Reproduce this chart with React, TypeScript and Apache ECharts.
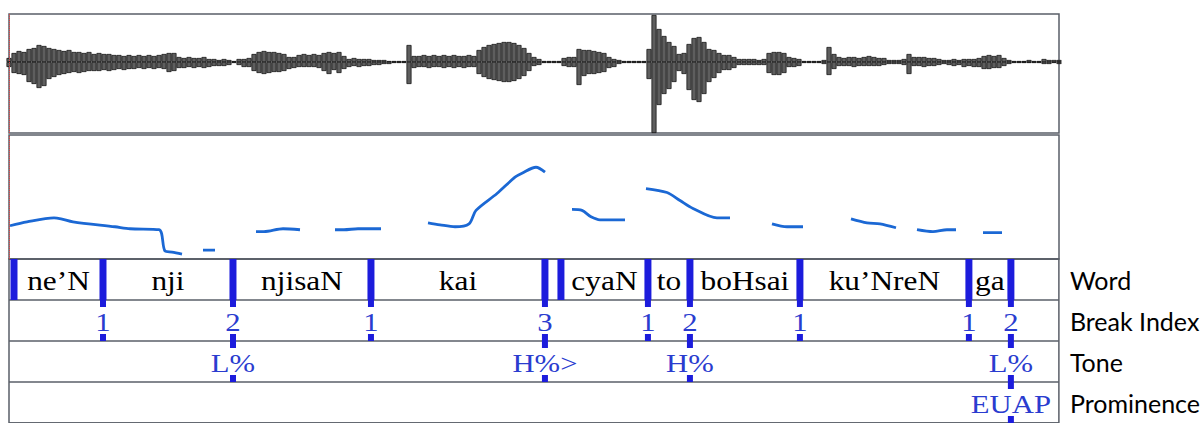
import React, { useEffect, useRef } from "react";
import * as echarts from "echarts";

// ---- time axis (ms) ----
const TIME_MAX = 2100;
const WAVE_STEP = 10; // sampling step of the waveform envelope (ms)

// ---- waveform envelope (amplitude, arbitrary units) ----
const WAVE_UP = [
  4, 9, 11, 10, 13, 14, 17, 16, 14, 13, 12, 11, 12, 10, 10, 9, 10, 8, 9, 8,
  8, 7, 7, 6, 7, 6, 7, 6, 7, 6, 7, 8, 9, 9, 5, 4, 5, 4, 4, 5,
  3, 3, 2, 3, 2, 1, 3, 3, 4, 8, 10, 11, 10, 10, 9, 8, 5, 5, 7, 8,
  7, 8, 7, 9, 10, 9, 10, 6, 3, 4, 3, 3, 3, 2, 2, 2, 1, 1, 1, 1,
  17, 6, 6, 7, 6, 7, 6, 7, 6, 7, 6, 6, 7, 6, 12, 15, 17, 18, 19, 20,
  20, 19, 17, 14, 9, 5, 3, 1, 1, 1, 1, 4, 5, 5, 13, 12, 12, 11, 10, 9,
  5, 3, 2, 1, 1, 1, 1, 1, 13, 47, 33, 26, 20, 16, 8, 9, 18, 24, 25, 20,
  13, 12, 9, 7, 7, 5, 3, 3, 3, 3, 2, 3, 9, 10, 10, 9, 5, 4, 3, 1,
  1, 1, 1, 2, 15, 8, 5, 4, 5, 5, 4, 5, 6, 5, 4, 4, 2, 2, 2, 3,
  8, 5, 5, 5, 4, 4, 3, 2, 2, 3, 2, 3, 3, 3, 4, 6, 7, 6, 7, 4,
  2, 1, 1, 1, 2, 1, 1, 3, 2, 2, 2,
];
const WAVE_DOWN = [
  -5, -11, -12, -13, -20, -22, -26, -24, -17, -15, -13, -12, -11, -10, -11, -10, -9, -9, -9, -8,
  -9, -8, -7, -8, -7, -7, -6, -7, -6, -7, -6, -7, -10, -9, -6, -6, -5, -6, -5, -6,
  -5, -4, -4, -4, -3, -1, -3, -5, -5, -9, -11, -12, -11, -10, -10, -9, -7, -6, -5, -5,
  -5, -5, -6, -9, -12, -8, -11, -7, -5, -4, -5, -4, -4, -3, -3, -2, -2, -1, -1, -1,
  -22, -6, -5, -5, -6, -5, -5, -6, -5, -6, -5, -6, -5, -5, -12, -15, -17, -18, -19, -20,
  -20, -19, -17, -14, -9, -4, -3, -1, -1, -1, -1, -4, -5, -5, -23, -14, -12, -12, -11, -10,
  -6, -5, -2, -1, -1, -1, -1, -1, -17, -71, -43, -32, -27, -20, -9, -12, -28, -38, -40, -32,
  -20, -16, -11, -8, -8, -6, -3, -3, -3, -3, -3, -3, -11, -13, -13, -11, -5, -5, -4, -1,
  -1, -1, -1, -2, -13, -7, -4, -4, -4, -5, -4, -4, -4, -4, -4, -3, -2, -2, -2, -3,
  -12, -4, -4, -5, -4, -4, -3, -2, -3, -4, -3, -5, -4, -5, -5, -7, -7, -6, -6, -4,
  -2, -1, -1, -1, -1, -1, -1, -2, -2, -1, -2,
];

// ---- pitch track (time ms, Hz), one list per voiced stretch ----
const PITCH_SEGMENTS: number[][][] = [
  [[2, 117], [36, 125], [90, 133], [104, 131], [128, 125], [212, 115], [242, 111], [300, 109], [312, 66], [326, 64], [346, 60]],
  [[388, 68], [412, 68]],
  [[494, 105], [510, 105], [548, 111], [582, 109]],
  [[652, 109], [670, 109], [698, 111], [744, 111]],
  [[838, 123], [862, 119], [892, 115], [920, 121], [934, 148], [976, 182], [1012, 215], [1026, 223], [1054, 235], [1072, 225]],
  [[1126, 150], [1146, 148], [1164, 135], [1182, 129], [1232, 129]],
  [[1274, 192], [1316, 184], [1342, 168], [1368, 152], [1416, 133], [1442, 133]],
  [[1526, 121], [1556, 115], [1588, 115]],
  [[1684, 131], [1716, 123], [1742, 121], [1774, 113]],
  [[1816, 109], [1848, 105], [1876, 109], [1894, 109]],
  [[1948, 103], [1986, 103]],
];

// ---- annotation tiers ----
const TIER_NAMES = ["Word", "Break Index", "Tone", "Prominence"];
const WORD_LABELS = ["ne’N", "nji", "njisaN", "kai", "cyaN", "to", "boHsai", "ku’NreN", "ga"];
const WORD_STARTS = [10, 188, 448, 724, 1104, 1278, 1362, 1582, 1920];
const WORD_ENDS = [188, 448, 724, 1072, 1278, 1362, 1582, 1920, 2004];
const WORD_BOUNDARIES = [10, 188, 448, 724, 1072, 1104, 1278, 1362, 1582, 1920, 2004];
const BREAK_TIMES = [188, 448, 724, 1072, 1278, 1362, 1582, 1920, 2004];
const BREAK_LABELS = ["1", "2", "1", "3", "1", "2", "1", "1", "2"];
const TONE_TIMES = [448, 1072, 1362, 2004];
const TONE_LABELS = ["L%", "H%>", "H%", "L%"];
const PROM_TIMES = [2004];
const PROM_LABELS = ["EUAP"];

const BAR_BLUE = "#1c1cdc";
const TEXT_BLUE = "#2a3ccf";
const PITCH_BLUE = "#1b68d4";
const FRAME = "#5a5f68";

export default function App() {
  const ref = useRef<HTMLDivElement>(null);

  useEffect(() => {
    document.body.style.margin = "0";
    const chart = echarts.init(ref.current!, undefined, { renderer: "svg" });

    const waveUp = WAVE_UP.map((v, i) => [i * WAVE_STEP, v]);
    const waveDown = WAVE_DOWN.map((v, i) => [i * WAVE_STEP, v]);

    const pointTiers: number[][] = [];
    BREAK_TIMES.forEach((t) => pointTiers.push([t, 1]));
    TONE_TIMES.forEach((t) => pointTiers.push([t, 2]));
    PROM_TIMES.forEach((t) => pointTiers.push([t, 3]));

    const pointLabels: { t: number; tier: number; text: string }[] = [];
    BREAK_TIMES.forEach((t, i) => pointLabels.push({ t, tier: 1, text: BREAK_LABELS[i] }));
    TONE_TIMES.forEach((t, i) => pointLabels.push({ t, tier: 2, text: TONE_LABELS[i] }));
    PROM_TIMES.forEach((t, i) => pointLabels.push({ t, tier: 3, text: PROM_LABELS[i] }));

    const xAx = (gridIndex: number) => ({
      type: "value", gridIndex, min: 0, max: TIME_MAX, show: false,
    });

    const waveStyle = { color: "#5e5e5e", borderColor: "#050505", borderWidth: 0.7 };

    const option: any = {
      animation: false,
      grid: [
        { left: 9, top: 14, width: 1050, height: 119, show: true, borderColor: FRAME, borderWidth: 1.5 },
        { left: 9, top: 135, width: 1050, height: 124, show: true, borderColor: FRAME, borderWidth: 1.5 },
        { left: 9, top: 259, width: 1050, height: 168, show: true, borderColor: FRAME, borderWidth: 1.5 },
      ],
      xAxis: [xAx(0), xAx(1), xAx(2)],
      yAxis: [
        { type: "value", gridIndex: 0, min: -71, max: 48, show: false },
        { type: "value", gridIndex: 1, min: 50, max: 300, show: false },
        {
          type: "category", gridIndex: 2, data: TIER_NAMES, inverse: true, position: "right",
          axisLine: { show: false }, axisTick: { show: false },
          axisLabel: { fontFamily: "Lato", fontSize: 25, color: "#000", margin: 11 },
          splitLine: { show: true, lineStyle: { color: FRAME, width: 1.5 } },
        },
      ],
      series: [
        {
          type: "bar", xAxisIndex: 0, yAxisIndex: 0, data: waveUp, barWidth: 5, barGap: "-100%",
          itemStyle: waveStyle,
          markLine: {
            silent: true, symbol: "none", label: { show: false },
            lineStyle: { color: "#e04040", type: "dotted", width: 1 },
            data: [{ xAxis: 0 }],
          },
        },
        {
          type: "bar", xAxisIndex: 0, yAxisIndex: 0, data: waveDown, barWidth: 5, barGap: "-100%",
          itemStyle: waveStyle,
        },
        ...PITCH_SEGMENTS.map((seg, k) => ({
          type: "line", xAxisIndex: 1, yAxisIndex: 1, data: seg, showSymbol: false, smooth: 0.3,
          lineStyle: { color: PITCH_BLUE, width: 2.8 },
          ...(k === 0
            ? {
                markLine: {
                  silent: true, symbol: "none", label: { show: false },
                  lineStyle: { color: "#e04040", type: "dotted", width: 1 },
                  data: [{ xAxis: 0 }],
                },
              }
            : {}),
        })),
        // word-tier boundaries
        {
          type: "custom", xAxisIndex: 2, yAxisIndex: 2, data: WORD_BOUNDARIES.map((t) => [t, 0]),
          renderItem: (_p: any, api: any) => {
            const c = api.coord([api.value(0), api.value(1)]);
            const h = api.size([0, 1])[1];
            return {
              type: "rect",
              shape: { x: c[0] - 3.5, y: c[1] - h / 2, width: 7, height: h },
              style: { fill: BAR_BLUE },
            };
          },
        },
        // point-tier marks (top & bottom ticks)
        {
          type: "custom", xAxisIndex: 2, yAxisIndex: 2, data: pointTiers,
          renderItem: (_p: any, api: any) => {
            const c = api.coord([api.value(0), api.value(1)]);
            const h = api.size([0, 1])[1];
            return {
              type: "group",
              children: [
                { type: "rect", shape: { x: c[0] - 3, y: c[1] - h / 2, width: 6, height: 7 }, style: { fill: BAR_BLUE } },
                { type: "rect", shape: { x: c[0] - 3, y: c[1] + h / 2 - 7, width: 6, height: 7 }, style: { fill: BAR_BLUE } },
              ],
            };
          },
        },
        // word labels
        {
          type: "custom", xAxisIndex: 2, yAxisIndex: 2,
          data: WORD_LABELS.map((_, i) => [WORD_STARTS[i], WORD_ENDS[i], 0]),
          encode: { x: [0, 1], y: 2 },
          renderItem: (p: any, api: any) => {
            const a = api.coord([api.value(0), api.value(2)]);
            const b = api.coord([api.value(1), api.value(2)]);
            return {
              type: "text", x: (a[0] + b[0]) / 2, y: a[1] + 1, scaleX: 1.12,
              style: {
                text: WORD_LABELS[p.dataIndex], fill: "#000", fontFamily: "Liberation Serif",
                fontSize: 28, align: "center", verticalAlign: "middle",
              },
            };
          },
        },
        // point labels
        {
          type: "custom", xAxisIndex: 2, yAxisIndex: 2,
          data: pointLabels.map((d) => [d.t, d.tier]),
          renderItem: (p: any, api: any) => {
            const c = api.coord([api.value(0), api.value(1)]);
            return {
              type: "text", x: c[0], y: c[1] + 2, scaleX: 1.18, z2: 5,
              style: {
                text: pointLabels[p.dataIndex].text, fill: TEXT_BLUE, fontFamily: "Liberation Serif",
                fontSize: 26, align: "center", verticalAlign: "middle",
              },
            };
          },
        },
      ],
    };

    chart.setOption(option);
    return () => chart.dispose();
  }, []);

  return <div ref={ref} style={{ width: 1203, height: 423 }} />;
}
